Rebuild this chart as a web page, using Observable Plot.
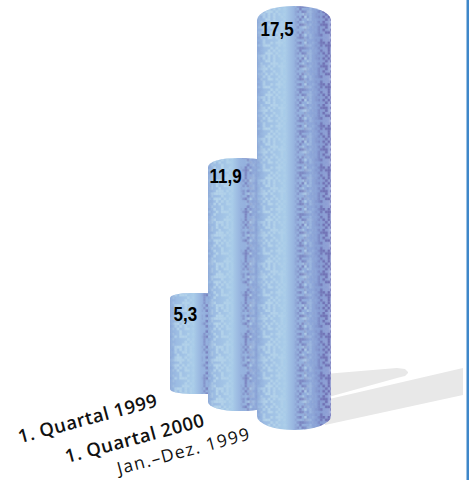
<!DOCTYPE html>
<html>
<head>
<meta charset="utf-8">
<script src="https://cdn.jsdelivr.net/npm/d3@7"></script>
<script src="https://cdn.jsdelivr.net/npm/@observablehq/plot@0.6"></script>
<style>
html,body{margin:0;padding:0;background:#fff;}
svg{display:block;overflow:hidden;}
.lightdots rect{mask:url(#lightMask);}
.darkdots rect{mask:url(#darkMask);}
.lightdots,.darkdots{filter:blur(.35px);}
</style>
</head>
<body>
<div id="chart"></div>
<script>
// Chart data
const categories = ["1. Quartal 1999", "1. Quartal 2000", "Jan.–Dez. 1999"];
const valueLabels = ["5,3", "11,9", "17,5"];
const values = [5.3, 11.9, 17.5];
// apparent column extents (perspective drawing), on the value axis
const columnTop = [5.65, 11.23, 17.5];
const columnBase = [1.49, 0.78, 0];
const columnLeft = [170, 208, 257];
const columnRight = [232, 272, 331];
const columnRoundX = [20, 30, 40];
const columnRoundY = [5, 9, 14];
const labelLeft = [173, 209, 260];
const labelLevel = [4.8, 10.5, 16.55];
const categoryLeft = [18, 65, 117];
const categoryLevel = [-0.29, -1.11, -1.6];
const categoryWeight = [600, 600, 400];
const categorySize = [18.5, 18.5, 17.5];
const categoryLength = [143, 143, 136];
// cast shadows
const shadowFarX = [325, 397, 405, 408];
const shadowFarTop = [2.31, 2.56, 2.52, 2.39];
const shadowFarBottom = [1.32, 2.15, 2.23, 2.35];
const shadowNearX = [325, 463];
const shadowNearTop = [1.24, 2.56];
const shadowNearBottom = [0.21, 1.44];
const frameX = [467.5];

const columns = categories.map((category, i) => ({
  category, value: values[i], label: valueLabels[i],
  top: columnTop[i], base: columnBase[i],
  left: columnLeft[i], right: columnRight[i], rx: columnRoundX[i], ry: columnRoundY[i],
  labelLeft: labelLeft[i], labelLevel: labelLevel[i],
  catLeft: categoryLeft[i], catLevel: categoryLevel[i],
  catWeight: categoryWeight[i], catSize: categorySize[i], catLength: categoryLength[i]
}));
const farShadow = shadowFarX.map((x, i) => ({x, y1: shadowFarTop[i], y2: shadowFarBottom[i]}));
const nearShadow = shadowNearX.map((x, i) => ({x, y1: shadowNearTop[i], y2: shadowNearBottom[i]}));

const columnMarks = columns.flatMap(c => {
  const opts = {x1: "left", x2: "right", y1: "base", y2: "top", rx: c.rx, ry: c.ry};
  return [
    Plot.rect([c], {...opts, fill: "url(#columnShade)"}),
    Plot.rect([c], {...opts, fill: "url(#lightDots)", className: "lightdots"}),
    Plot.rect([c], {...opts, fill: "url(#darkDots)", className: "darkdots"})
  ];
});

const plot = Plot.plot({
  width: 469,
  height: 480,
  marginTop: 6,
  marginBottom: 50,
  marginLeft: 0,
  marginRight: 0,
  x: {domain: [0, 469], range: [0, 469], axis: null},
  y: {domain: [0, 17.5], axis: null},
  style: {background: "#fff"},
  marks: [
    Plot.areaY(farShadow, {x: "x", y1: "y1", y2: "y2", fill: "#e8e8e8"}),
    Plot.areaY(nearShadow, {x: "x", y1: "y1", y2: "y2", fill: "#e8e8e8"}),
    ...columnMarks,
    Plot.text(columns, {
      x: "labelLeft", y: "labelLevel", text: "label", textAnchor: "start", className: "valuelabel",
      fill: "#000", fontSize: 20, fontWeight: 700, fontFamily: "'Liberation Sans',sans-serif"
    }),
    ...columns.map(c => Plot.text([c], {
      x: "catLeft", y: "catLevel", text: "category", textAnchor: "start", className: "catlabel",
      rotate: -15, fill: "#111", fontSize: c.catSize, fontWeight: c.catWeight, fontFamily: "'Open Sans',sans-serif"
    })),
    Plot.ruleX(frameX, {y1: -2.2, y2: 17.8, stroke: "#3f87c9", strokeWidth: 3})
  ]
});

const defs = d3.create("svg:defs");
const grad = defs.append("linearGradient").attr("id", "columnShade");
[[0, "#90aedc"], [0.1, "#9cbce3"], [0.38, "#a9cce9"], [0.5, "#97b4df"], [0.72, "#8fa9da"], [0.85, "#869dd3"], [0.97, "#909fd5"], [1, "#b3bde6"]]
  .forEach(([o, c]) => grad.append("stop").attr("offset", o).attr("stop-color", c));

// fixed dither cells for the printed-screen texture
function dots(id, color, seed) {
  const s = 2.6, n = 16;
  const p = defs.append("pattern").attr("id", id).attr("patternUnits", "userSpaceOnUse")
    .attr("width", s * n).attr("height", s * n);
  for (let i = 0; i < n; i++) for (let j = 0; j < n; j++) {
    const h = ((i * 7 + j * 13 + seed) * (i * 3 + j * 5 + 11)) % 17;
    if ((i + j) % 2 === 0 ? h < 11 : h < 3) p.append("rect").attr("x", i * s).attr("y", j * s)
      .attr("width", s).attr("height", s).attr("fill", color);
  }
}
dots("lightDots", "#bcdaec", 3);
dots("darkDots", "#6c6bb0", 8);

function mask(id, stops) {
  const g = defs.append("linearGradient").attr("id", id + "G");
  stops.forEach(([o, v]) => g.append("stop").attr("offset", o).attr("stop-color", "#fff").attr("stop-opacity", v));
  defs.append("mask").attr("id", id).attr("maskContentUnits", "objectBoundingBox")
    .attr("x", 0).attr("y", 0).attr("width", 1).attr("height", 1)
    .append("rect").attr("width", 1).attr("height", 1).attr("fill", `url(#${id}G)`);
}
mask("lightMask", [[0, 0.1], [0.12, 0.8], [0.3, 0.55], [0.42, 0], [0.58, 0], [0.65, 0.7], [0.74, 0.2], [0.82, 0], [1, 0.1]]);
mask("darkMask", [[0, 0.12], [0.1, 0], [0.5, 0], [0.6, 0.7], [0.72, 0], [0.82, 0.2], [0.88, 0.85], [1, 0.9]]);

plot.insertBefore(defs.node(), plot.firstChild);
document.getElementById("chart").append(plot);

// the reference's value labels are set in a condensed bold face
d3.select(plot).selectAll(".valuelabel text").each(function () {
  this.setAttribute("textLength", this.getComputedTextLength() * 0.85);
  this.setAttribute("lengthAdjust", "spacingAndGlyphs");
});
// the category labels are fitted to the reference's set width
d3.select(plot).selectAll(".catlabel text").each(function () {
  const c = columns.find(d => d.category === this.textContent);
  this.setAttribute("textLength", c.catLength);
});
</script>
</body>
</html>
